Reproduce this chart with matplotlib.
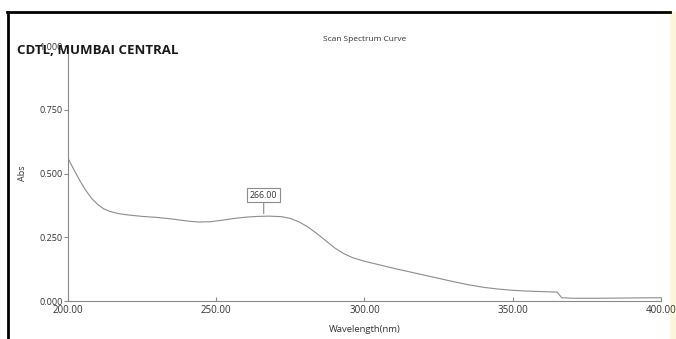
"""UV scan spectrum plot"""
import matplotlib
matplotlib.use('Agg')
import matplotlib.pyplot as plt
from matplotlib.lines import Line2D
from matplotlib.patches import Rectangle

plt.rcParams.update({
    'font.family': ['Open Sans', 'DejaVu Sans'],
    'font.size': 6.5,
    'axes.edgecolor': '#8a8a8a',
    'axes.linewidth': 0.8,
    'xtick.color': '#8a8a8a',
    'ytick.color': '#8a8a8a',
    'xtick.labelcolor': '#333333',
    'ytick.labelcolor': '#333333',
})

wavelength = [200, 202, 204, 206, 208, 210, 212, 214, 217, 220, 225, 230, 235, 240,
              244, 248, 252, 256, 260, 264, 268, 272, 275, 278, 281, 284, 287, 290,
              293, 296, 300, 305, 310, 315, 320, 325, 330, 335, 340, 345, 350, 355,
              360, 365, 366.5, 370, 380, 390, 400]
absorbance = [0.56, 0.515, 0.472, 0.434, 0.402, 0.379, 0.362, 0.352, 0.343, 0.338, 0.332,
              0.328, 0.322, 0.314, 0.310, 0.311, 0.317, 0.324, 0.329, 0.332, 0.333,
              0.331, 0.324, 0.31, 0.29, 0.264, 0.236, 0.208, 0.186, 0.170, 0.156,
              0.142, 0.128, 0.115, 0.102, 0.089, 0.076, 0.064, 0.054, 0.047, 0.042,
              0.039, 0.037, 0.035, 0.013, 0.011, 0.011, 0.012, 0.013]
peak_wl = 266.00
peak_abs = 0.333

x_ticks = [200, 250, 300, 350, 400]
y_ticks = [0.0, 0.25, 0.5, 0.75, 1.0]

fig = plt.figure(figsize=(6.76, 3.39), dpi=100)
ax = fig.add_axes([0.1006, 0.112, 0.8772, 0.752])
ax.patch.set_alpha(0)

ax.plot(wavelength, absorbance, color='#8c8c8c', linewidth=0.8)
ax.set_xlim(200, 400)
ax.set_ylim(0, 1.0)
ax.set_xticks(x_ticks)
ax.set_xticklabels([f'{v:.2f}' for v in x_ticks], fontsize=7)
ax.set_yticks(y_ticks)
ax.set_yticklabels([f'{v:.3f}' for v in y_ticks], fontsize=6.5)
ax.tick_params(axis='x', direction='in', length=3, pad=3)
ax.tick_params(axis='y', direction='out', length=3, pad=1)
ax.spines['top'].set_visible(False)
ax.spines['right'].set_visible(False)

ax.set_xlabel('Wavelength(nm)', fontsize=6.8, color='#333333', labelpad=6)
ax.set_ylabel('Abs', fontsize=6.5, color='#333333', labelpad=9)
ax.set_title('Scan Spectrum Curve', fontsize=6, color='#333333', pad=4)

# peak marker with boxed label
ax.annotate(f'{peak_wl:.2f}', xy=(peak_wl, peak_abs + 0.01), xytext=(0, 10),
            textcoords='offset points', ha='center', va='bottom', fontsize=6.3,
            color='#333333',
            bbox=dict(boxstyle='square,pad=0.3', fc='white', ec='#8c8c8c', lw=0.8),
            arrowprops=dict(arrowstyle='-', color='#8c8c8c', lw=0.8,
                            shrinkA=0, shrinkB=0))

fig.text(17 / 676, 1 - 50 / 339, 'CDTL, MUMBAI CENTRAL', fontsize=9.5,
         fontweight='bold', color='#1a1a1a', va='center', ha='left')

# page frame and edge tint
fig.add_artist(Rectangle((670 / 676, 0), 6 / 676, 1 - 12 / 339,
                         transform=fig.transFigure, fc='#fbf5dc', ec='none',
                         zorder=-1))
fig.add_artist(Line2D([8 / 676, 8 / 676], [0, 1 - 12 / 339],
                      transform=fig.transFigure, color='black', lw=2))
fig.add_artist(Line2D([7 / 676, 670 / 676], [1 - 12 / 339, 1 - 12 / 339],
                      transform=fig.transFigure, color='black', lw=2))

fig.savefig('out.png', dpi=100)
